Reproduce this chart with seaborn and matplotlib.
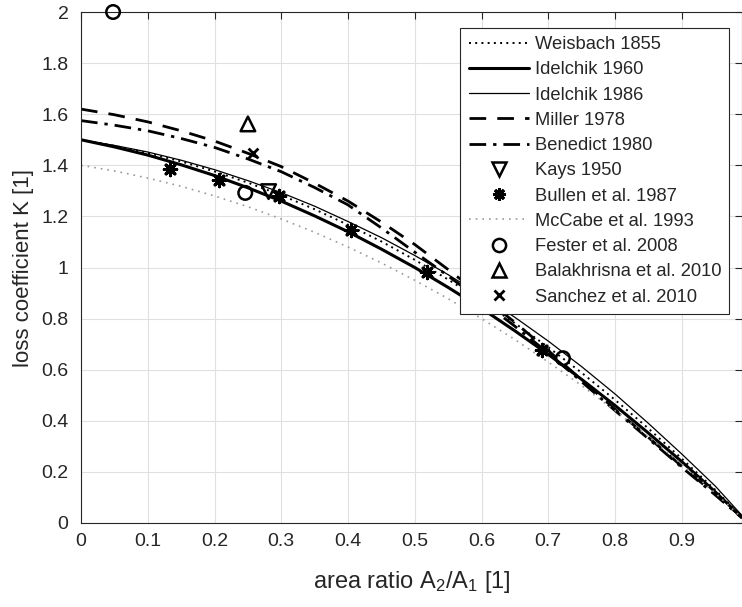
import numpy as np
import pandas as pd
import seaborn as sns
import matplotlib.pyplot as plt
from matplotlib.lines import Line2D

# area ratio grid used for the curves (read at every 0.05)
area = [0, 0.05, 0.1, 0.15, 0.2, 0.25, 0.3, 0.35, 0.4, 0.45, 0.5,
        0.55, 0.6, 0.65, 0.7, 0.75, 0.8, 0.85, 0.9, 0.95, 0.99]

weisbach_1855 = [1.50, 1.476, 1.448, 1.415, 1.376, 1.332, 1.283, 1.228, 1.167, 1.102, 1.03,
                 0.953, 0.87, 0.782, 0.688, 0.588, 0.482, 0.37, 0.252, 0.13, 0.025]
idelchik_1960 = [1.50, 1.472, 1.44, 1.402, 1.36, 1.312, 1.26, 1.202, 1.14, 1.072, 1.00,
                 0.922, 0.84, 0.752, 0.66, 0.562, 0.46, 0.352, 0.24, 0.122, 0.022]
idelchik_1986 = [1.50, 1.478, 1.452, 1.42, 1.383, 1.34, 1.293, 1.24, 1.18, 1.117, 1.047,
                 0.972, 0.89, 0.805, 0.712, 0.612, 0.505, 0.39, 0.27, 0.145, 0.03]
miller_1978 = [1.62, 1.598, 1.57, 1.535, 1.495, 1.447, 1.395, 1.33, 1.26, 1.178, 1.09,
               0.992, 0.89, 0.785, 0.675, 0.56, 0.445, 0.335, 0.222, 0.113, 0.022]
benedict_1980 = [1.575, 1.557, 1.535, 1.505, 1.47, 1.425, 1.375, 1.313, 1.245, 1.155, 1.06,
                 0.967, 0.87, 0.77, 0.665, 0.553, 0.44, 0.33, 0.218, 0.11, 0.02]
mccabe_1993 = [1.40, 1.378, 1.35, 1.318, 1.28, 1.238, 1.19, 1.138, 1.08, 1.018, 0.95,
               0.878, 0.80, 0.718, 0.63, 0.538, 0.44, 0.338, 0.23, 0.118, 0.02]

# measurements
kays_x = [0.281]
kays_y = [1.297]
bullen_x = [0.133, 0.206, 0.296, 0.404, 0.518, 0.690]
bullen_y = [1.384, 1.342, 1.280, 1.147, 0.984, 0.677]
fester_x = [0.048, 0.246, 0.722]
fester_y = [2.0, 1.292, 0.645]
balak_x = [0.25]
balak_y = [1.562]
sanchez_x = [0.258]
sanchez_y = [1.448]

sns.set_style("whitegrid")
plt.rcParams['font.family'] = ['Liberation Sans', 'DejaVu Sans']
plt.rcParams['mathtext.default'] = 'regular'

fig = plt.figure(figsize=(7.42, 6.07), dpi=100)
ax = fig.add_axes([0.1092, 0.1384, 0.8906, 0.8418])

curves = [
    ("Weisbach 1855", weisbach_1855, dict(color='k', lw=1.4, ls=(0, (1, 2.2)))),
    ("Idelchik 1960", idelchik_1960, dict(color='k', lw=2.2, ls='-')),
    ("Idelchik 1986", idelchik_1986, dict(color='k', lw=0.9, ls='-')),
    ("Miller 1978", miller_1978, dict(color='k', lw=2.0, ls=(0, (6, 4)))),
    ("Benedict 1980", benedict_1980, dict(color='k', lw=2.0, ls=(0, (6, 2.5, 1.2, 2.5)))),
]
handles = []
for name, vals, st in curves:
    sns.lineplot(x=area, y=vals, ax=ax, color=st['color'], linewidth=st['lw'],
                 linestyle=st['ls'], legend=False)
    handles.append(Line2D([], [], color=st['color'], lw=st['lw'], ls=st['ls'], label=name))

sns.lineplot(x=area, y=mccabe_1993, ax=ax, color='0.6', linewidth=1.2,
             linestyle=(0, (1, 3)), legend=False)

mk = dict(color='none', edgecolor='k', linewidth=1.8, clip_on=False, zorder=5, legend=False)
sns.scatterplot(x=kays_x, y=kays_y, ax=ax, marker='v', s=110, **mk)
sns.scatterplot(x=bullen_x, y=bullen_y, ax=ax, marker=(8, 2, 0), s=80,
                color='k', edgecolor='k', linewidth=2.2, clip_on=False, zorder=5, legend=False)
sns.scatterplot(x=fester_x, y=fester_y, ax=ax, marker='o', s=95, **mk)
sns.scatterplot(x=balak_x, y=balak_y, ax=ax, marker='^', s=110, **mk)
sns.scatterplot(x=sanchez_x, y=sanchez_y, ax=ax, marker='x', s=50,
                color='k', linewidth=2.0, clip_on=False, zorder=5, legend=False)

handles += [
    Line2D([], [], ls='none', marker='v', ms=10, mfc='none', mec='k', mew=1.8, label="Kays 1950"),
    Line2D([], [], ls='none', marker=(8, 2, 0), ms=9, mfc='k', mec='k', mew=2.2, label="Bullen et al. 1987"),
    Line2D([], [], color='0.6', lw=1.2, ls=(0, (1, 3)), label="McCabe et al. 1993"),
    Line2D([], [], ls='none', marker='o', ms=9.5, mfc='none', mec='k', mew=1.8, label="Fester et al. 2008"),
    Line2D([], [], ls='none', marker='^', ms=10, mfc='none', mec='k', mew=1.8, label="Balakhrisna et al. 2010"),
    Line2D([], [], ls='none', marker='x', ms=6.5, mec='k', mew=2.0, label="Sanchez et al. 2010"),
]

ax.set_xlim(0, 0.99)
ax.set_ylim(0, 2)
ax.set_xticks(np.arange(0, 0.91, 0.1))
ax.set_xticklabels(["0", "0.1", "0.2", "0.3", "0.4", "0.5", "0.6", "0.7", "0.8", "0.9"])
ax.set_yticks(np.arange(0, 2.01, 0.2))
ax.set_yticklabels(["0", "0.2", "0.4", "0.6", "0.8", "1", "1.2", "1.4", "1.6", "1.8", "2"])
ax.tick_params(direction='in', length=5, width=0.8, colors='0.15', labelsize=14,
               top=True, right=True)
ax.tick_params(axis='y', pad=9)
ax.tick_params(axis='x', pad=7)
ax.grid(True, color='0.88', lw=0.8)
for sp in ax.spines.values():
    sp.set_color('0.15')
    sp.set_linewidth(0.8)

ax.set_xlabel("area ratio A$_2$/A$_1$ [1]", fontsize=17, color='0.15', labelpad=14)
ax.set_ylabel("loss coefficient K [1]", fontsize=16, color='0.15', labelpad=5)

leg = ax.legend(handles=handles, loc='upper right', bbox_to_anchor=(0.981, 0.969),
                borderaxespad=0, fancybox=False, framealpha=1, edgecolor='0.15',
                handlelength=3.3, handletextpad=0.3, labelspacing=0.45, borderpad=0.45,
                prop={'size': 13.2})
leg.get_frame().set_linewidth(0.8)

fig.savefig("out.png", dpi=100)
